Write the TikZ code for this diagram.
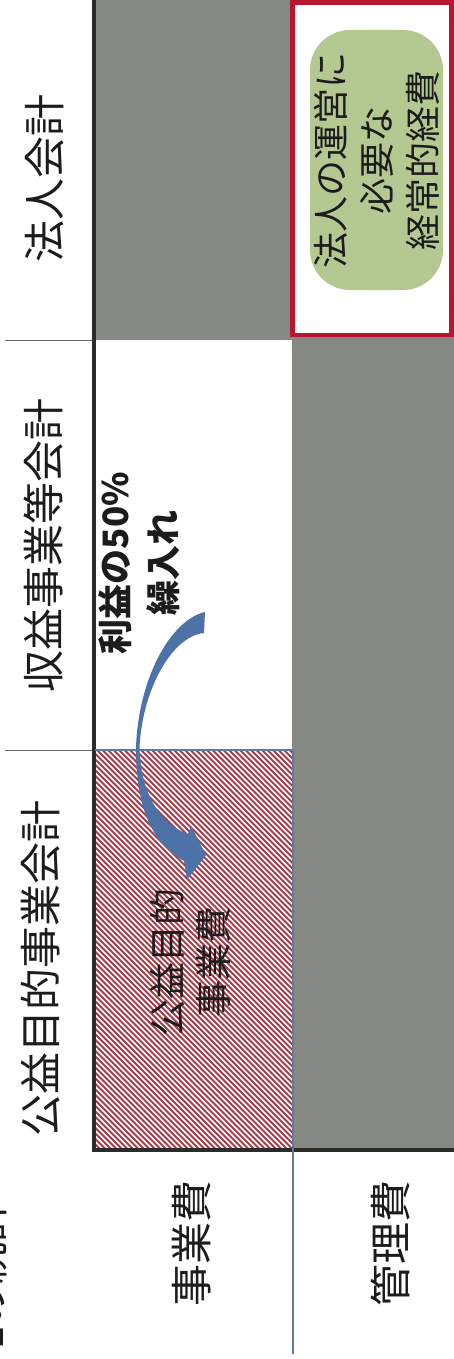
\documentclass[tikz,border=0pt]{standalone}
\usepackage{fontspec}
\newfontfamily\jp{Noto Sans CJK JP}
\definecolor{gry}{RGB}{134,136,132}
\definecolor{gbox}{RGB}{180,200,146}
\definecolor{rbox}{RGB}{184,22,46}
\definecolor{hatchc}{RGB}{168,60,72}
\definecolor{arrowc}{RGB}{76,114,168}
\definecolor{dark}{RGB}{42,44,42}
\definecolor{bline}{RGB}{96,124,156}
\definecolor{txt}{RGB}{28,28,28}
\begin{document}
\begin{tikzpicture}[x=1pt,y=-1pt,
  hdr/.style={rotate=90, inner sep=0pt, text=txt, font=\jp\fontsize{42}{50}\selectfont},
  lbl/.style={rotate=90, inner sep=0pt, text=txt, align=center},
  cellgrey/.style={fill=gry},
  hatchline/.style={draw=hatchc, line width=2pt},
  redframe/.style={draw=rbox, line width=4.5pt, fill=white},
  greenbox/.style={rotate=90, fill=gbox, rounded corners=40pt, minimum width=260pt, minimum height=133pt, inner sep=0pt, align=center, text=txt, font=\jp\fontsize{36}{46}\selectfont},
  tableedge/.style={draw=dark, line width=4pt},
  sepline/.style={draw=gray!80!black, line width=1pt},
  blueline/.style={draw=bline, line width=1.6pt},
  flow/.style={fill=arrowc}
]
\useasboundingbox (0,0) rectangle (454,1359);
\fill[white] (0,0) rectangle (454,1359);

% grey cells
\fill[cellgrey] (95,0) rectangle (292,340);
\fill[cellgrey] (292,336) rectangle (454,1150);

% hatched cell
\begin{scope}
  \clip (95,750) rectangle (293,1148);
  \foreach \k in {0,...,112} \draw[hatchline] ({-312+5.5*\k},748) -- ++(404,404);
\end{scope}

% red frame with green box
\draw[redframe] (292.5,2.5) rectangle (451.5,335);
\node[greenbox] (need) at (376.5,160) {法人の運営に\\必要な\\経常的経費};

% table lines
\coordinate (tl) at (93.5,0);
\coordinate (bl) at (93.5,1150);
\coordinate (br) at (454,1150);
\draw[tableedge] (tl) -- (bl) -- (br);
\coordinate (s1a) at (5,340);   \coordinate (s1b) at (92,340);
\coordinate (s2a) at (5,750);   \coordinate (s2b) at (92,750);
\draw[sepline] (s1a) -- (s1b);
\draw[sepline] (s2a) -- (s2b);
\coordinate (m1) at (95,750);  \coordinate (m2) at (293,750); \coordinate (m3) at (293,1354);
\draw[blueline] (m1) -- (m2);
\draw[blueline] (m2) -- (m3);

% curved arrow
\fill[flow] (205,612) .. controls (170,620) and (138,680) .. (136,748)
  .. controls (136,805) and (150,842) .. (184,861)
  -- (187,880) -- (206,855) -- (191,826) -- (188,834)
  .. controls (165,826) and (141,800) .. (139.5,748)
  .. controls (142,690) and (172,636) .. (204,633) -- cycle;

% header texts
\node[hdr] (h1) at (45,178) {法人会計};
\node[hdr] (h2) at (43,545) {収益事業等会計};
\node[hdr] (h3) at (41,968) {公益目的事業会計};
\node[hdr] (c1) at (192,1243) {事業費};
\node[hdr] (c2) at (390,1243) {管理費};
\node[hdr] (frag) at (-12,1275) {1の統計};

% cell labels
\node[lbl, font=\jp\bfseries\fontsize{35}{48}\selectfont] (profit) at (139,563) {利益の50\%\\繰入れ};
\node[lbl, font=\jp\fontsize{37}{46}\selectfont] (pub) at (190,962) {公益目的\\事業費};
\end{tikzpicture}
\end{document}
